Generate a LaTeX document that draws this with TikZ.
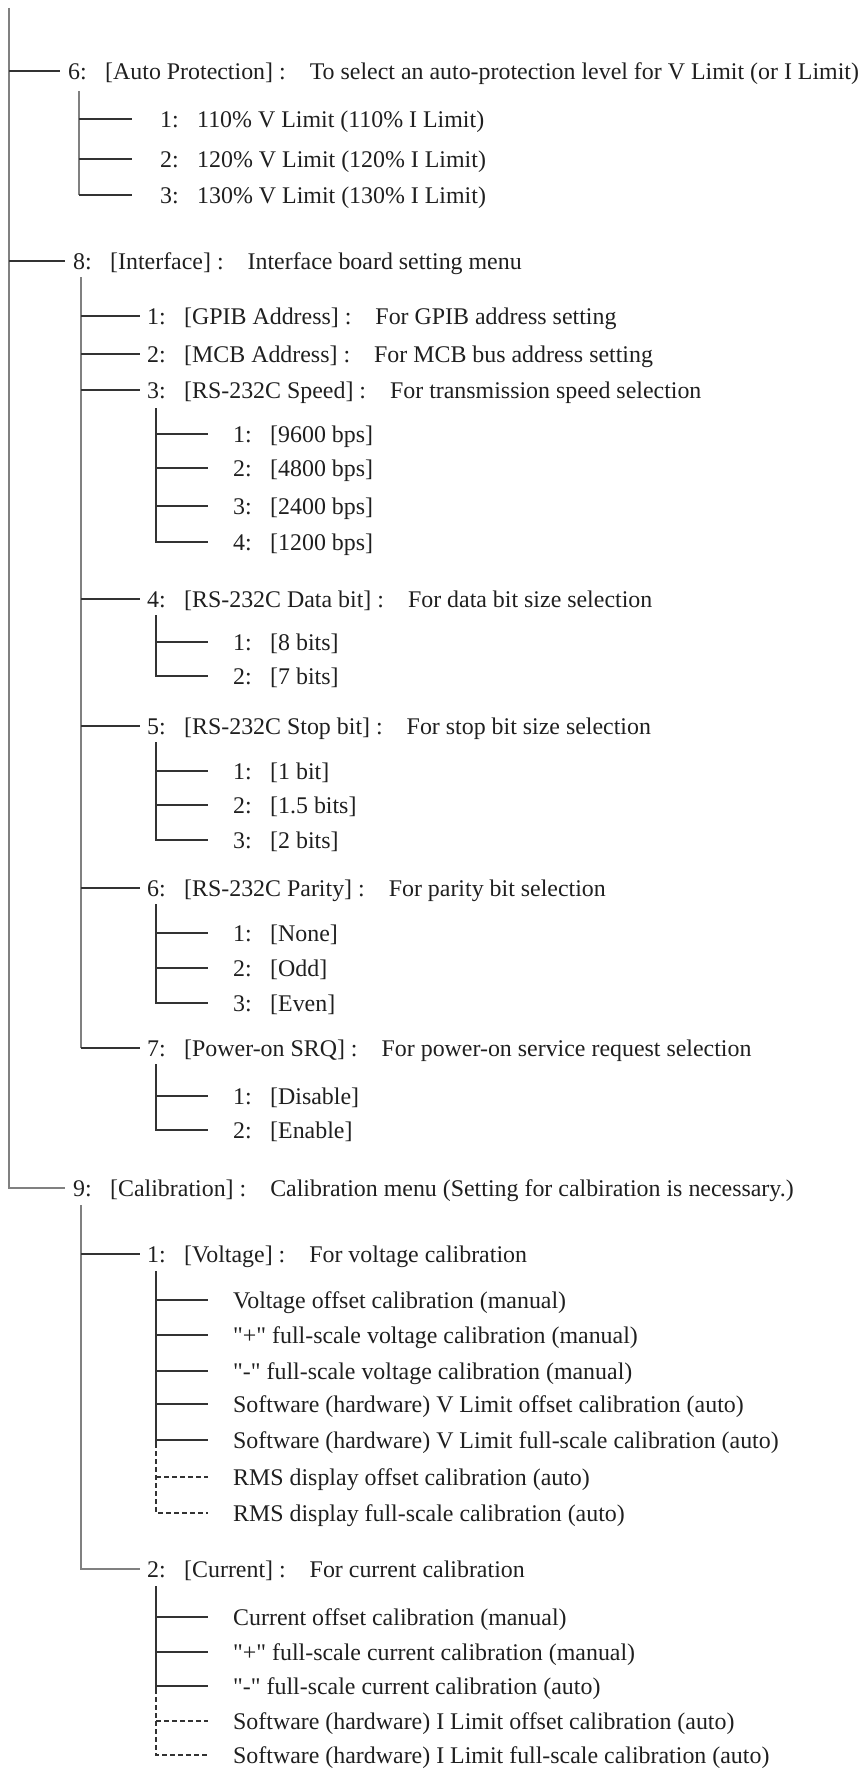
\documentclass[tikz,border=0pt]{standalone}
\usepackage{fontspec}
\setmainfont{Liberation Serif}[Ligatures=TeXOff]
\usetikzlibrary{calc}
\newcommand{\itemno}[1]{\makebox[37pt][l]{#1}}
\newcommand{\gapsep}{\hspace{24pt}}
\tikzset{
  item/.style={anchor=west, inner sep=0pt, text height=16pt, text depth=0pt, text=black!88,
    font=\fontsize{23.9}{28}\selectfont},
  trunk/.style={draw=black!50, line width=2pt},
  twig/.style={draw=black!80, line width=1.2pt},
  dashtwig/.style={twig, dash pattern=on 5pt off 3pt},
}
\begin{document}
\begin{tikzpicture}[x=1pt, y=-1pt]
\useasboundingbox (0,0) rectangle (867,1769);

% level 1
\node[item] (g6) at (68,71) {\itemno{6:}[Auto Protection] :\gapsep To select an auto-protection level for V Limit (or I Limit)};
\node[item] (g8) at (73,261) {\itemno{8:}[Interface] :\gapsep Interface board setting menu};
\node[item] (g9) at (73,1188) {\itemno{9:}[Calibration] :\gapsep Calibration menu (Setting for calbiration is necessary.)};

% auto protection
\node[item] (a1) at (160,119) {\itemno{1:}110\% V Limit (110\% I Limit)};
\node[item] (a2) at (160,159) {\itemno{2:}120\% V Limit (120\% I Limit)};
\node[item] (a3) at (160,195) {\itemno{3:}130\% V Limit (130\% I Limit)};

% interface
\node[item] (i1) at (147,316) {\itemno{1:}[GPIB Address] :\gapsep For GPIB address setting};
\node[item] (i2) at (147,354) {\itemno{2:}[MCB Address] :\gapsep For MCB bus address setting};
\node[item] (i3) at (147,390) {\itemno{3:}[RS-232C Speed] :\gapsep For transmission speed selection};
\node[item] (i4) at (147,599) {\itemno{4:}[RS-232C Data bit] :\gapsep For data bit size selection};
\node[item] (i5) at (147,726) {\itemno{5:}[RS-232C Stop bit] :\gapsep For stop bit size selection};
\node[item] (i6) at (147,888) {\itemno{6:}[RS-232C Parity] :\gapsep For parity bit selection};
\node[item] (i7) at (147,1048) {\itemno{7:}[Power-on SRQ] :\gapsep For power-on service request selection};

\node[item] (sp1) at (233,434) {\itemno{1:}[9600 bps]};
\node[item] (sp2) at (233,468) {\itemno{2:}[4800 bps]};
\node[item] (sp3) at (233,506) {\itemno{3:}[2400 bps]};
\node[item] (sp4) at (233,542) {\itemno{4:}[1200 bps]};

\node[item] (db1) at (233,642) {\itemno{1:}[8 bits]};
\node[item] (db2) at (233,676) {\itemno{2:}[7 bits]};

\node[item] (sb1) at (233,771) {\itemno{1:}[1 bit]};
\node[item] (sb2) at (233,805) {\itemno{2:}[1.5 bits]};
\node[item] (sb3) at (233,840) {\itemno{3:}[2 bits]};

\node[item] (pa1) at (233,933) {\itemno{1:}[None]};
\node[item] (pa2) at (233,968) {\itemno{2:}[Odd]};
\node[item] (pa3) at (233,1003) {\itemno{3:}[Even]};

\node[item] (sr1) at (233,1096) {\itemno{1:}[Disable]};
\node[item] (sr2) at (233,1130) {\itemno{2:}[Enable]};

% calibration
\node[item] (c1) at (147,1254) {\itemno{1:}[Voltage] :\gapsep For voltage calibration};
\node[item] (c2) at (147,1569) {\itemno{2:}[Current] :\gapsep For current calibration};

\node[item] (v1) at (233,1300) {Voltage offset calibration (manual)};
\node[item] (v2) at (233,1335) {"+" full-scale voltage calibration (manual)};
\node[item] (v3) at (233,1371) {"-" full-scale voltage calibration (manual)};
\node[item] (v4) at (233,1404) {Software (hardware) V Limit offset calibration (auto)};
\node[item] (v5) at (233,1440) {Software (hardware) V Limit full-scale calibration (auto)};
\node[item] (v6) at (233,1477) {RMS display offset calibration (auto)};
\node[item] (v7) at (233,1513) {RMS display full-scale calibration (auto)};

\node[item] (k1) at (233,1617) {Current offset calibration (manual)};
\node[item] (k2) at (233,1652) {"+" full-scale current calibration (manual)};
\node[item] (k3) at (233,1686) {"-" full-scale current calibration (auto)};
\node[item] (k4) at (233,1721) {Software (hardware) I Limit offset calibration (auto)};
\node[item] (k5) at (233,1755) {Software (hardware) I Limit full-scale calibration (auto)};

% tree lines
\coordinate (top) at (9,8);
\coordinate (t6) at (79,91);
\coordinate (t8) at (81,277);
\coordinate (t9) at (81,1205);
\coordinate (s3) at (156,408);
\coordinate (s4) at (156,615);
\coordinate (s5) at (156,742);
\coordinate (s6) at (156,904);
\coordinate (s7) at (156,1064);
\coordinate (sv) at (156,1271);
\coordinate (sc) at (156,1586);

\draw[trunk] (top) |- ([xshift=-8pt]g9.west);
\draw[twig] (top |- g6.west) -- ([xshift=-8pt]g6.west);
\draw[twig] (top |- g8.west) -- ([xshift=-8pt]g8.west);

\draw[trunk, line width=1.5pt] (t6) -- (t6 |- a3.west);
\draw[twig] (t6 |- a3.west) -- ([xshift=-28pt]a3.west);
\foreach \n in {1,2}
  \draw[twig] (t6 |- a\n.west) -- ([xshift=-28pt]a\n.west);

\draw[trunk, line width=1.5pt] (t8) -- (t8 |- i7.west);
\foreach \n in {1,...,7}
  \draw[twig] (t8 |- i\n.west) -- ([xshift=-7pt]i\n.west);

\draw[twig] (s3) |- ([xshift=-25pt]sp4.west);
\foreach \n in {1,2,3}
  \draw[twig] (s3 |- sp\n.west) -- ([xshift=-25pt]sp\n.west);
\draw[twig] (s4) |- ([xshift=-25pt]db2.west);
\draw[twig] (s4 |- db1.west) -- ([xshift=-25pt]db1.west);
\draw[twig] (s5) |- ([xshift=-25pt]sb3.west);
\foreach \n in {1,2}
  \draw[twig] (s5 |- sb\n.west) -- ([xshift=-25pt]sb\n.west);
\draw[twig] (s6) |- ([xshift=-25pt]pa3.west);
\foreach \n in {1,2}
  \draw[twig] (s6 |- pa\n.west) -- ([xshift=-25pt]pa\n.west);
\draw[twig] (s7) |- ([xshift=-25pt]sr2.west);
\draw[twig] (s7 |- sr1.west) -- ([xshift=-25pt]sr1.west);

\draw[trunk, line width=1.5pt] (t9) |- ([xshift=-7pt]c2.west);
\draw[twig] (t9 |- c1.west) -- ([xshift=-7pt]c1.west);

% voltage: solid then dashed
\draw[twig] (sv) -- ($(sv |- v5.west)+(0,3)$);
\foreach \n in {1,...,5}
  \draw[twig] (sv |- v\n.west) -- ([xshift=-25pt]v\n.west);
\draw[dashtwig] ($(sv |- v5.west)+(0,3)$) |- ([xshift=-25pt]v7.west);
\draw[dashtwig] (sv |- v6.west) -- ([xshift=-25pt]v6.west);

% current: solid then dashed
\draw[twig] (sc) -- ($(sc |- k3.west)+(0,3)$);
\foreach \n in {1,2,3}
  \draw[twig] (sc |- k\n.west) -- ([xshift=-25pt]k\n.west);
\draw[dashtwig] ($(sc |- k3.west)+(0,3)$) |- ([xshift=-25pt]k5.west);
\draw[dashtwig] (sc |- k4.west) -- ([xshift=-25pt]k4.west);
\end{tikzpicture}
\end{document}
